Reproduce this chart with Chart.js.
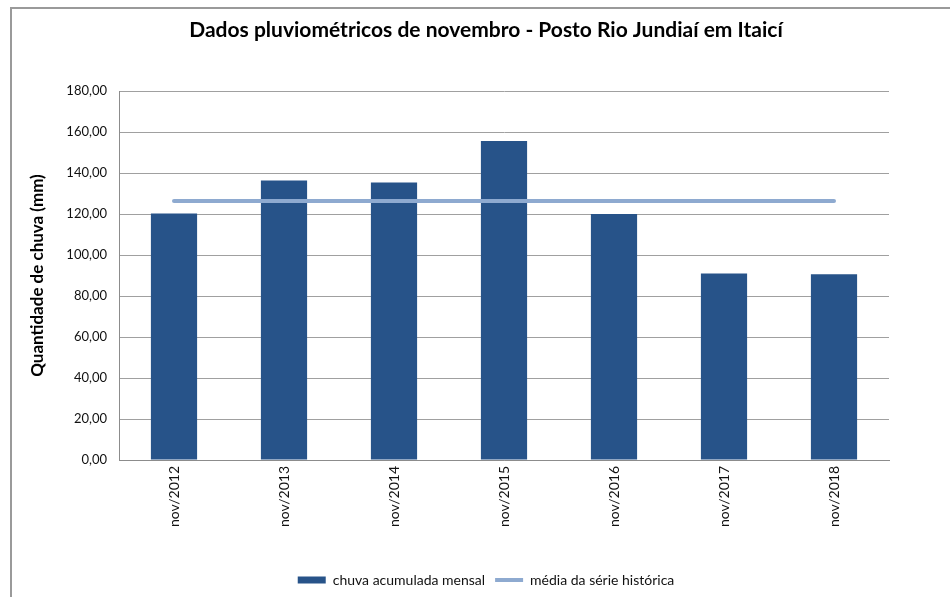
<!DOCTYPE html>
<html>
<head>
<meta charset="utf-8">
<script src="https://cdn.jsdelivr.net/npm/chart.js@4/dist/chart.umd.min.js"></script>
<style>
  html, body { margin: 0; padding: 0; background: #fff; }
  #wrap { position: relative; width: 950px; height: 597px; overflow: hidden; }
  #frame { position: absolute; left: 10px; top: 7px; width: 960px; height: 600px;
           border-left: 2px solid #9a9a9a; border-top: 2px solid #9a9a9a; }
  canvas { position: absolute; left: 0; top: 0; }
</style>
</head>
<body>
<div id="wrap">
  <div id="frame"></div>
  <canvas id="c" width="950" height="597"></canvas>
</div>
<script>
const categories = ['nov/2012', 'nov/2013', 'nov/2014', 'nov/2015', 'nov/2016', 'nov/2017', 'nov/2018'];
const chuvaMensal = [120.2, 136.4, 135.4, 155.6, 120.0, 91.0, 90.6];
const mediaHistorica = [126.4, 126.4, 126.4, 126.4, 126.4, 126.4, 126.4];
const yTickValues = [0, 20, 40, 60, 80, 100, 120, 140, 160, 180];
const yTickLabels = ['0,00', '20,00', '40,00', '60,00', '80,00', '100,00', '120,00', '140,00', '160,00', '180,00'];

const FONT = 'Lato, "Noto Sans", sans-serif';

new Chart(document.getElementById('c'), {
  data: {
    labels: categories,
    datasets: [
      {
        type: 'line',
        label: 'média da série histórica',
        data: mediaHistorica,
        borderColor: '#8eaad0',
        backgroundColor: '#8eaad0',
        borderWidth: 4,
        borderCapStyle: 'round',
        pointRadius: 0,
        pointStyle: 'line',
        order: 0
      },
      {
        type: 'bar',
        label: 'chuva acumulada mensal',
        data: chuvaMensal,
        backgroundColor: '#275389',
        borderWidth: 0,
        barPercentage: 0.42,
        categoryPercentage: 1.0,
        pointStyle: 'rect',
        order: 1
      }
    ]
  },
  options: {
    responsive: false,
    animation: false,
    layout: { padding: { left: 22, right: 0, top: 0, bottom: 0 } },
    scales: {
      x: {
        grid: { display: false, drawTicks: false },
        border: { display: true, color: '#8c8c8c', width: 1 },
        ticks: {
          minRotation: 90, maxRotation: 90, padding: 6,
          color: '#111', font: { family: FONT, size: 14 }
        },
        afterFit: s => { s.height = 103; }
      },
      y: {
        min: 0, max: 180,
        afterBuildTicks: s => { s.ticks = yTickValues.map(v => ({ value: v })); },
        grid: { color: '#a0a0a0', lineWidth: 1, drawTicks: false },
        border: { display: true, color: '#8c8c8c', width: 1 },
        ticks: {
          padding: 12, color: '#111', font: { family: FONT, size: 13 },
          callback: (v) => { const i = yTickValues.indexOf(v); return i >= 0 ? yTickLabels[i] : ''; }
        },
        title: {
          display: true, text: 'Quantidade de chuva (mm)', color: '#000',
          font: { family: FONT, size: 17, weight: 'bold' },
          padding: { top: 5, bottom: 0 }
        },
        afterFit: s => { s.width = 97; }
      },
      y2: {
        position: 'right', min: 0, max: 1,
        grid: { display: false }, border: { display: false },
        ticks: { display: false },
        afterFit: s => { s.width = 61; }
      }
    },
    plugins: {
      title: {
        display: true,
        text: 'Dados pluviométricos de novembro - Posto Rio Jundiaí em Itaicí',
        color: '#000',
        font: { family: FONT, size: 21, weight: 'bold' },
        padding: { top: 18, bottom: 47.8 }
      },
      legend: {
        position: 'bottom',
        reverse: true,
        labels: {
          usePointStyle: true,
          pointStyleWidth: 28,
          boxHeight: 7,
          padding: 10,
          color: '#111',
          font: { family: FONT, size: 14 }
        }
      },
      tooltip: { enabled: false }
    }
  }
});
</script>
</body>
</html>
